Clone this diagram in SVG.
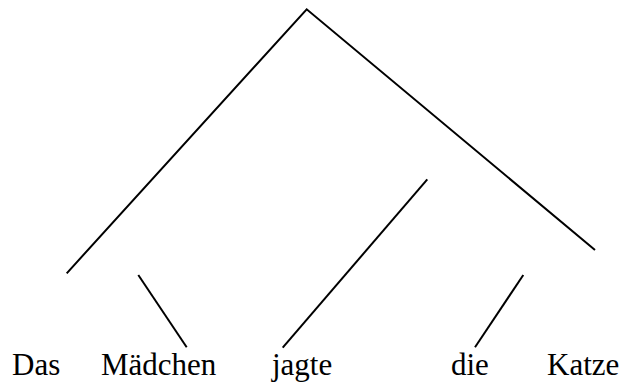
<svg xmlns="http://www.w3.org/2000/svg" width="622" height="385" viewBox="0 0 622 385">
<style>
.e{stroke:#000;stroke-width:2;fill:none;stroke-linecap:butt}
.t{font-family:'Liberation Serif','Times New Roman',Tinos,'DejaVu Serif',serif;font-size:31px;fill:#000}
</style>
<rect width="622" height="385" fill="#fff"/>
<g id="connectors">
<polyline class="e" points="66.7,273.3 306.7,9.3 595,250"/>
<line class="e" x1="138.3" y1="275" x2="186.7" y2="347.3"/>
<line class="e" x1="427.3" y1="179.3" x2="282.7" y2="347.7"/>
<line class="e" x1="523.3" y1="275" x2="475" y2="347.3"/>
</g>
<g id="n-das"><text class="t" x="12" y="375" font-family="Liberation Serif, serif">Das</text></g>
<g id="n-maedchen"><text class="t" x="101" y="375" font-family="Liberation Serif, serif">Mädchen</text></g>
<g id="n-jagte"><text class="t" x="272" y="375" font-family="Liberation Serif, serif">jagte</text></g>
<g id="n-die"><text class="t" x="451" y="375" font-family="Liberation Serif, serif">die</text></g>
<g id="n-katze"><text class="t" x="547" y="375" font-family="Liberation Serif, serif">Katze</text></g>
</svg>
